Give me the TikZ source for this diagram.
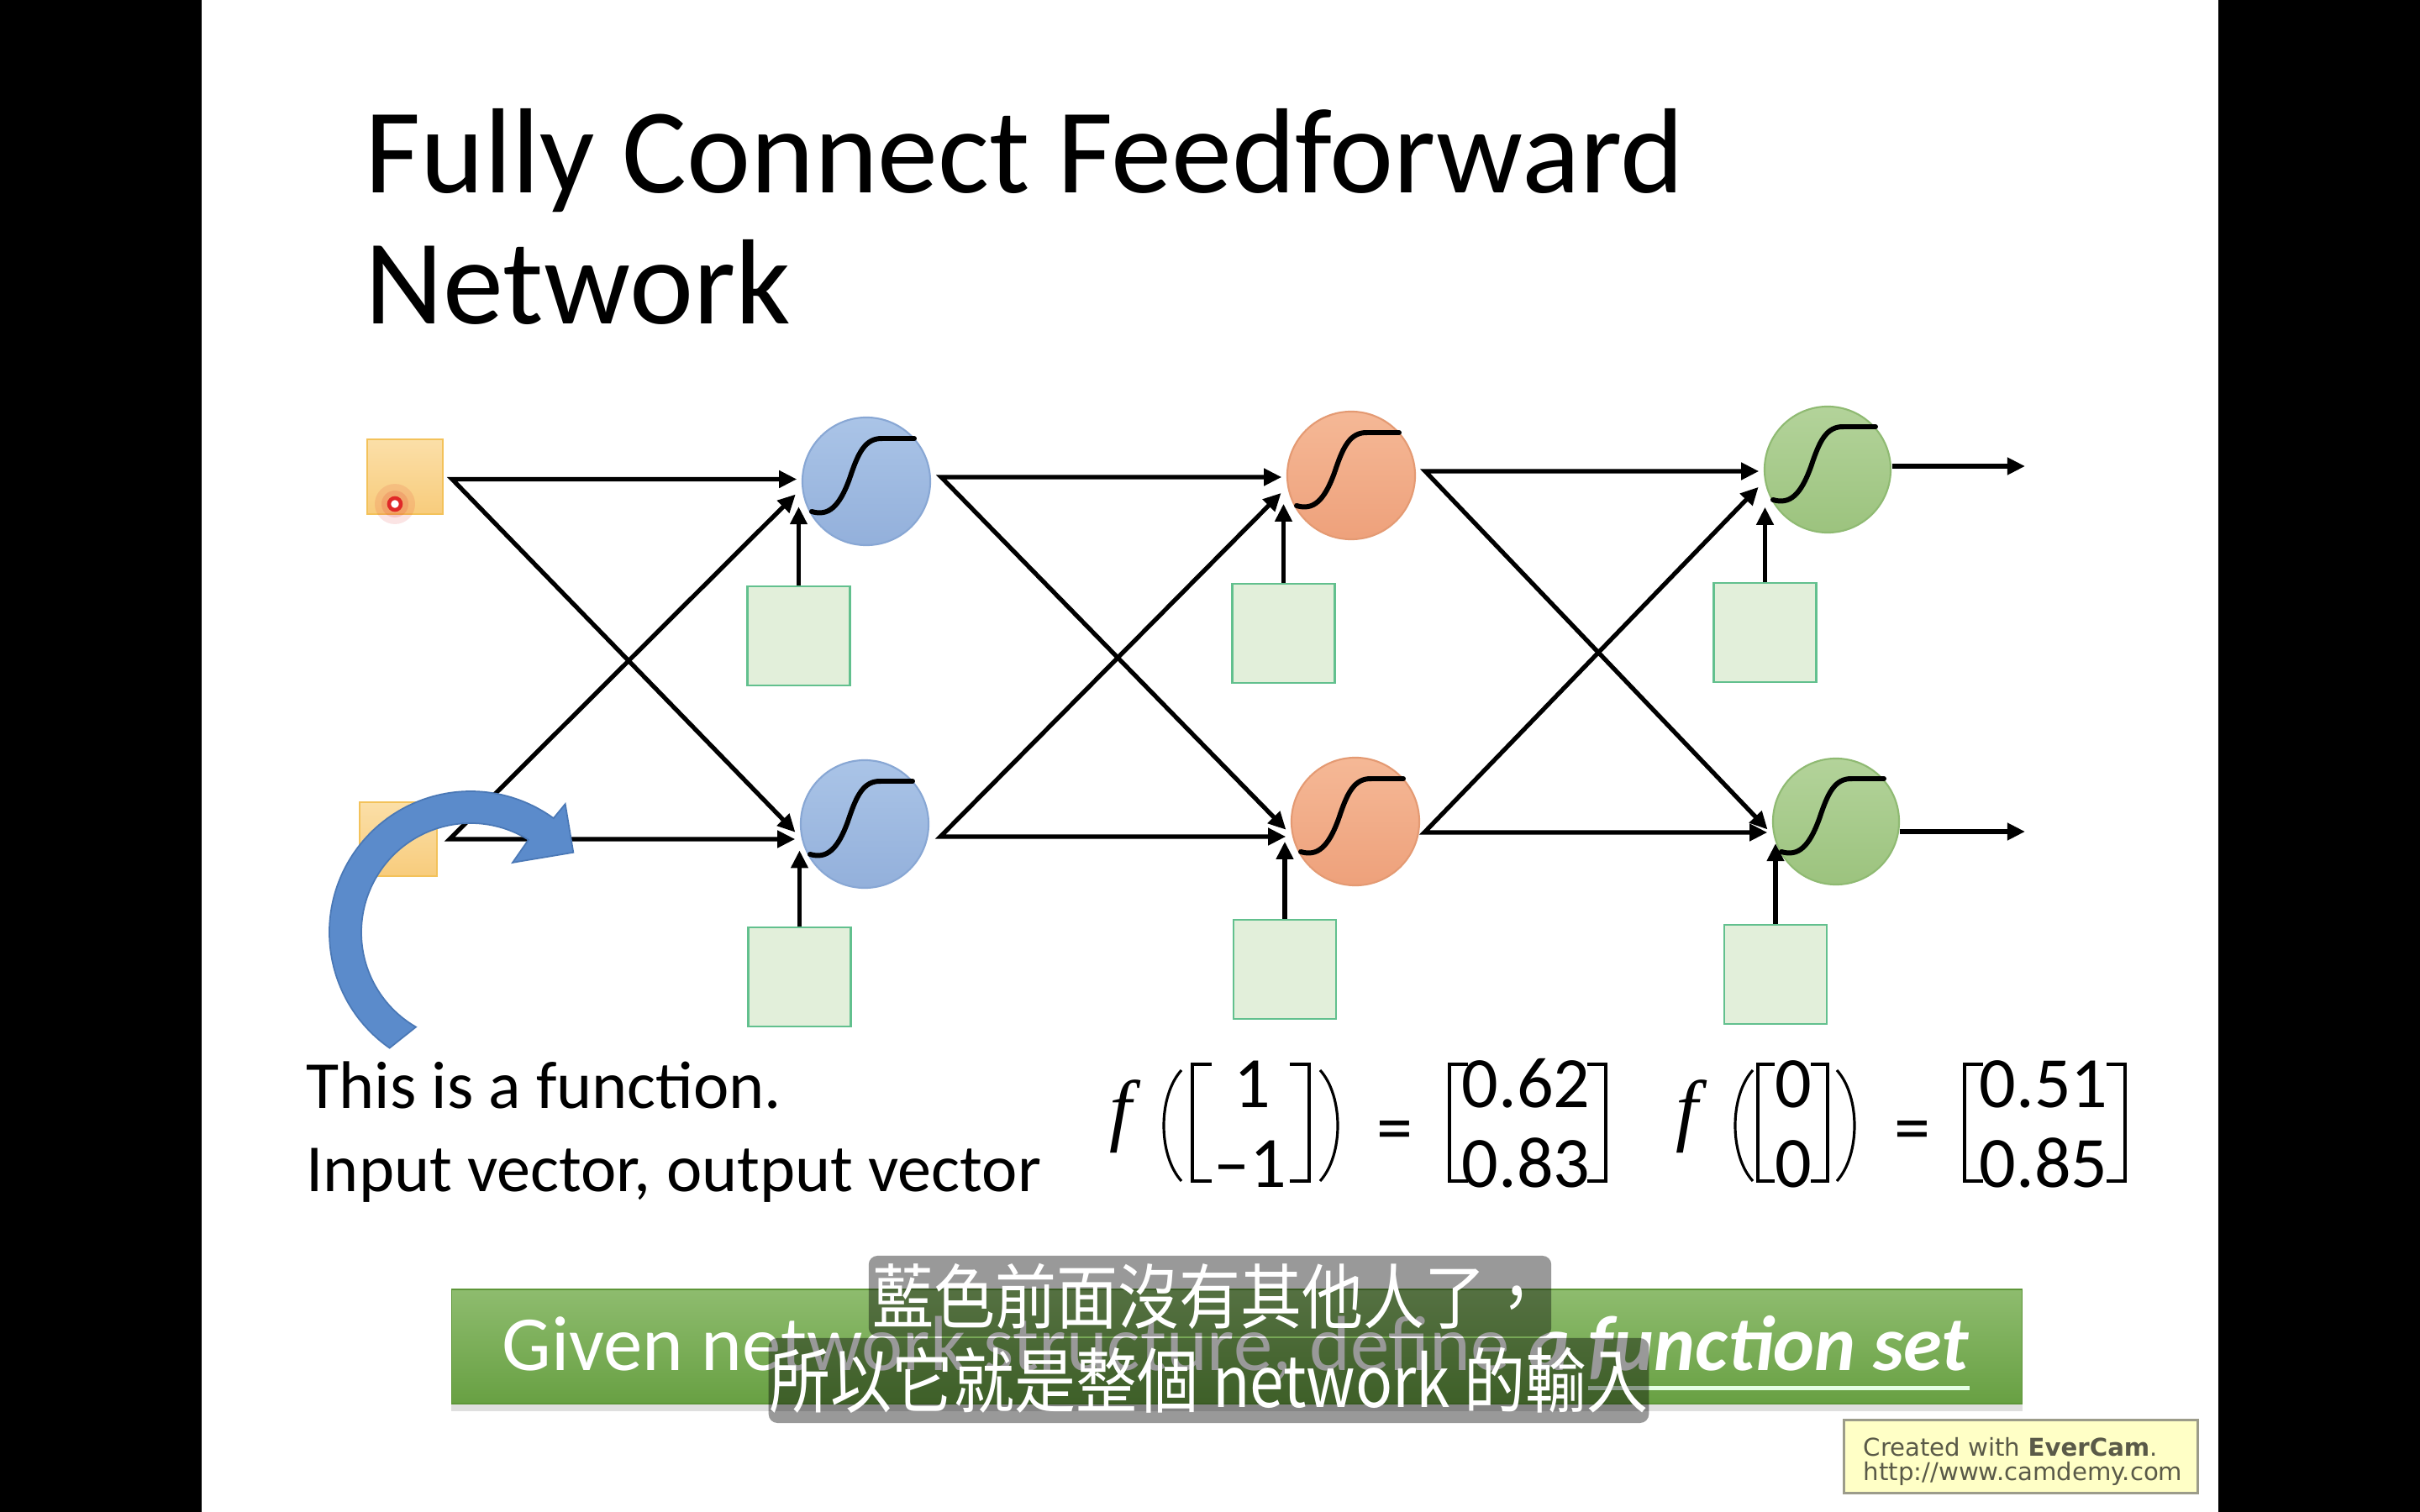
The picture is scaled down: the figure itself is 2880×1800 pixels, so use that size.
\documentclass[tikz,border=0pt]{standalone}
\usepackage{graphicx}
\usepackage{fontspec}
\setmainfont{Carlito}
\newfontfamily\cjk{Noto Sans CJK TC}
\newfontfamily\dvs{DejaVu Sans}
\newfontfamily\lserif{Liberation Serif}
\usetikzlibrary{arrows.meta,shadows}
\definecolor{inpT}{HTML}{FBDFA8}
\definecolor{inpB}{HTML}{F8CC7C}
\definecolor{inpD}{HTML}{F3C25A}
\definecolor{bluT}{HTML}{AAC4E7}
\definecolor{bluB}{HTML}{93B0DB}
\definecolor{bluD}{HTML}{88A7D4}
\definecolor{orT}{HTML}{F5B896}
\definecolor{orB}{HTML}{EEA17B}
\definecolor{orD}{HTML}{E49A73}
\definecolor{grT}{HTML}{B3D39A}
\definecolor{grB}{HTML}{9CC37E}
\definecolor{grD}{HTML}{8FBA72}
\definecolor{biasF}{HTML}{E2EFDA}
\definecolor{biasD}{HTML}{62C08E}
\definecolor{banT}{HTML}{8EBC6E}
\definecolor{banB}{HTML}{68A043}
\definecolor{banD}{HTML}{5E9639}
\definecolor{arrB}{HTML}{5B8BCB}
\definecolor{arrD}{HTML}{4A78B6}
\definecolor{wmF}{HTML}{FFFFC6}
\definecolor{wmD}{HTML}{9C9C8A}
\definecolor{wmT}{HTML}{5A5A48}
\definecolor{curR}{HTML}{E02828}
\begin{document}
\begin{tikzpicture}[x=0.01cm,y=-0.01cm,
  inpbox/.style={rectangle,inner sep=0,draw=inpD,top color=inpT,bottom color=inpB,line width=0.6pt},
  neuron/.style={circle,inner sep=0,minimum size=1.52cm,line width=0.6pt},
  bluen/.style={neuron,draw=bluD,top color=bluT,bottom color=bluB},
  orangen/.style={neuron,draw=orD,top color=orT,bottom color=orB},
  greenn/.style={neuron,minimum size=1.5cm,draw=grD,top color=grT,bottom color=grB},
  biasbox/.style={rectangle,inner sep=0,draw=biasD,fill=biasF,line width=0.75pt,minimum width=1.22cm,minimum height=1.18cm},
  conn/.style={line width=1.5pt,-{Triangle[length=6pt,width=5.6pt]}},
  dconn/.style={line width=1.5pt,{Triangle[length=6pt,width=5.6pt]}-{Triangle[length=6pt,width=5.6pt]},shorten <=1.6pt,shorten >=3pt},
  sigline/.style={line width=1.7pt,line cap=round},
  sigm/.pic={\draw[sigline] (-65,36) .. controls (-45,42) and (-32,30) .. (-20,-3) .. controls (-10,-33) and (-2,-52) .. (20,-51) -- (57,-51);},
  txt/.style={inner sep=0,anchor=base west},
  dig/.style={inner sep=0,anchor=base,font=\fontsize{24.5pt}{29pt}\selectfont},
  fsym/.style={inner sep=0,anchor=base,font=\lserif\itshape\fontsize{27pt}{30pt}\selectfont},
  brk/.style={line width=0.9pt},
  subbox/.style={fill=black,fill opacity=0.4,text opacity=1,text=white,rounded corners=3pt,inner sep=0,font={\cjk\fontsize{24pt}{28pt}\selectfont}},
  banner/.style={rectangle,inner sep=0,top color=banT,bottom color=banB,draw=banD,line width=0.4pt,drop shadow={shadow xshift=0pt,shadow yshift=-2.5pt,opacity=0.25}}
]
\useasboundingbox (0,0) rectangle (2880,1800);
\fill[black] (0,0) rectangle (2880,1800);
\fill[white] (240,0) rectangle (2640,1800);

% title
\node[txt,font=\fontsize{41pt}{49pt}\selectfont] (t1) at (434,230) {Fully Connect Feedforward};
\node[txt,font=\fontsize{41pt}{49pt}\selectfont] (t2) at (434,386) {Network};

% inputs
\node[inpbox,minimum width=0.9cm,minimum height=0.89cm] (x1) at (482,567.5) {};
\node[inpbox,minimum width=0.92cm,minimum height=0.88cm] (x2) at (474,999) {};

% neurons
\node[bluen] (h1) at (1031,573) {};
\node[bluen] (h2) at (1029,981) {};
\node[orangen] (o1) at (1608,566) {};
\node[orangen] (o2) at (1613,978) {};
\node[greenn] (g1) at (2175,559) {};
\node[greenn] (g2) at (2185,978) {};
\foreach \n in {h1,h2,o1,o2,g1,g2} \pic at (\n) {sigm};

% bias boxes
\node[biasbox] (b1) at (950.5,757) {};
\node[biasbox] (b2) at (951.5,1163) {};
\node[biasbox] (c1) at (1527.5,754) {};
\node[biasbox] (c2) at (1529,1154) {};
\node[biasbox] (d1) at (2100.5,753) {};
\node[biasbox] (d2) at (2113,1160) {};

% connector start points
\coordinate (x1o) at ([shift={(10,3)}]x1.east);
\coordinate (x2o) at ([shift={(14,0)}]x2.east);
\coordinate (h1o) at ([shift={(12,-5)}]h1.east);
\coordinate (h2o) at ([shift={(13,15)}]h2.east);
\coordinate (o1o) at ([shift={(11,-5)}]o1.east);
\coordinate (o2o) at ([shift={(5,13)}]o2.east);
\coordinate (g1o) at ([shift={(1,-4)}]g1.east);
\coordinate (g2o) at ([shift={(0,12)}]g2.east);
\coordinate (y1) at (2410,555);
\coordinate (y2) at (2410,990);

% layer 1
\draw[dconn] (x1o -| h1.west) -- (x1o) -- (h2.193);
\draw[dconn] (x2o -| h2.west) -- (x2o) -- (h1.186);
\draw[conn] (b1.north) -- (b1.north |- h1.203);
\draw[conn] (b2.north) -- (b2.north |- h2.204);
% layer 2
\draw[dconn] (h1o -| o1.west) -- (h1o) -- (o2.193);
\draw[dconn] (h2o -| o2.west) -- (h2o) -- (o1.190);
\draw[conn] (c1.north) -- (c1.north |- o1.206);
\draw[conn] (c2.north) -- (c2.north |- o2.198);
% layer 3
\draw[dconn] (o1o -| g1.west) -- (o1o) -- (g2.193);
\draw[dconn] (o2o -| g2.west) -- (o2o) -- (g1.190);
\draw[conn] (d1.north) -- (d1.north |- g1.216);
\draw[conn] (d2.north) -- (d2.north |- g2.200);
% outputs
\draw[conn] (g1o) -- (y1);
\draw[conn] (g2o) -- (y2);

% curved blue arrow
\filldraw[fill=arrB,draw=arrD,line width=0.5pt]
  (463.64,1247.62) arc[start angle=125,end angle=306,radius=168]
  -- (672.7,957.1) -- (682.3,1014.8) -- (610,1026.9) -- (628.9,999.75)
  arc[start angle=302,end angle=120,radius=130] -- cycle;

% left texts
\node[txt,font=\fontsize{22.8pt}{27pt}\selectfont] (l1) at (364,1319) {This is a function.};
\node[txt,font=\fontsize{22.8pt}{27pt}\selectfont] (l2) at (364,1418) {Input vector, output vector};

% equation 1
\node[fsym] (f1) at (1334,1352) {f};
\draw[brk] (1406,1274) .. controls (1378,1305) and (1378,1375) .. (1406,1406);
\draw[brk] (1442,1267) -- (1419,1267) -- (1419,1406) -- (1442,1406);
\node[dig] (e1a) at (1490,1318) {1};
\node[dig] (e1b) at (1488,1413) {–1};
\draw[brk] (1535,1267) -- (1558,1267) -- (1558,1406) -- (1535,1406);
\draw[brk] (1571,1274) .. controls (1599,1305) and (1599,1375) .. (1571,1406);
\node[dig] (eq1) at (1660,1371) {=};
\draw[brk] (1747,1267) -- (1725,1267) -- (1725,1406) -- (1747,1406);
\node[dig] (e1c) at (1816,1318) {0.62};
\node[dig] (e1d) at (1816,1413) {0.83};
\draw[brk] (1889,1267) -- (1911,1267) -- (1911,1406) -- (1889,1406);

% equation 2
\node[fsym] (f2) at (2008,1352) {f};
\draw[brk] (2086,1274) .. controls (2058,1305) and (2058,1375) .. (2086,1406);
\draw[brk] (2112,1267) -- (2092,1267) -- (2092,1406) -- (2112,1406);
\node[dig] (e2a) at (2134,1318) {0};
\node[dig] (e2b) at (2134,1413) {0};
\draw[brk] (2155,1267) -- (2175,1267) -- (2175,1406) -- (2155,1406);
\draw[brk] (2186,1274) .. controls (2214,1305) and (2214,1375) .. (2186,1406);
\node[dig] (eq2) at (2276,1371) {=};
\draw[brk] (2360,1267) -- (2338,1267) -- (2338,1406) -- (2360,1406);
\node[dig] (e2c) at (2432,1318) {0.51};
\node[dig] (e2d) at (2432,1413) {0.85};
\draw[brk] (2507,1267) -- (2529,1267) -- (2529,1406) -- (2507,1406);

% banner
\node[banner,minimum width=18.68cm,minimum height=1.36cm] (bn) at (1472,1603) {};
\node[txt,text=white,font=\fontsize{26.4pt}{30pt}\selectfont] (bt1) at (597,1631) {Given network structure, define};
\node[txt,text=white,font=\fontsize{26.4pt}{30pt}\selectfont\bfseries\itshape,anchor=base west] (bt2) at ([xshift=6pt]bt1.base east) {a};
\node[txt,text=white,font=\fontsize{26.4pt}{30pt}\selectfont\bfseries\itshape,anchor=base west] (bt3) at ([xshift=6pt]bt2.base east) {function set};
\draw[white!90!green,line width=1.4pt] ([yshift=-6.2pt]bt3.base west) -- ([yshift=-6.2pt]bt3.base east);

% subtitles
\node[subbox,minimum width=8.12cm,minimum height=0.96cm] (s1) at (1440,1543) {\scalebox{0.865}[1]{藍色前面沒有其他人了，}};
\node[subbox,minimum width=10.47cm,minimum height=1.01cm] (s2) at (1438.5,1643.5) {\scalebox{0.865}[1]{所以它就是整個 network 的輸入}};

% watermark
\node[rectangle,inner sep=0,draw=wmD,fill=wmF,line width=0.8pt,minimum width=4.2cm,minimum height=0.87cm] (wm) at (2405,1734) {};
\node[txt,text=wmT,font=\dvs\fontsize{8.3pt}{9pt}\selectfont] (wm1) at (2217,1733) {Created with \textbf{EverCam}.};
\node[txt,text=wmT,font=\dvs\fontsize{8.3pt}{9pt}\selectfont] (wm2) at (2217,1762) {http://www.camdemy.com};

% cursor
\fill[curR,opacity=0.12] (470,600) circle[radius=24];
\fill[curR,opacity=0.15] (470,600) circle[radius=16];
\filldraw[fill=white,draw=curR,line width=1.3pt] (470,600) circle[radius=7];
\end{tikzpicture}
\end{document}
